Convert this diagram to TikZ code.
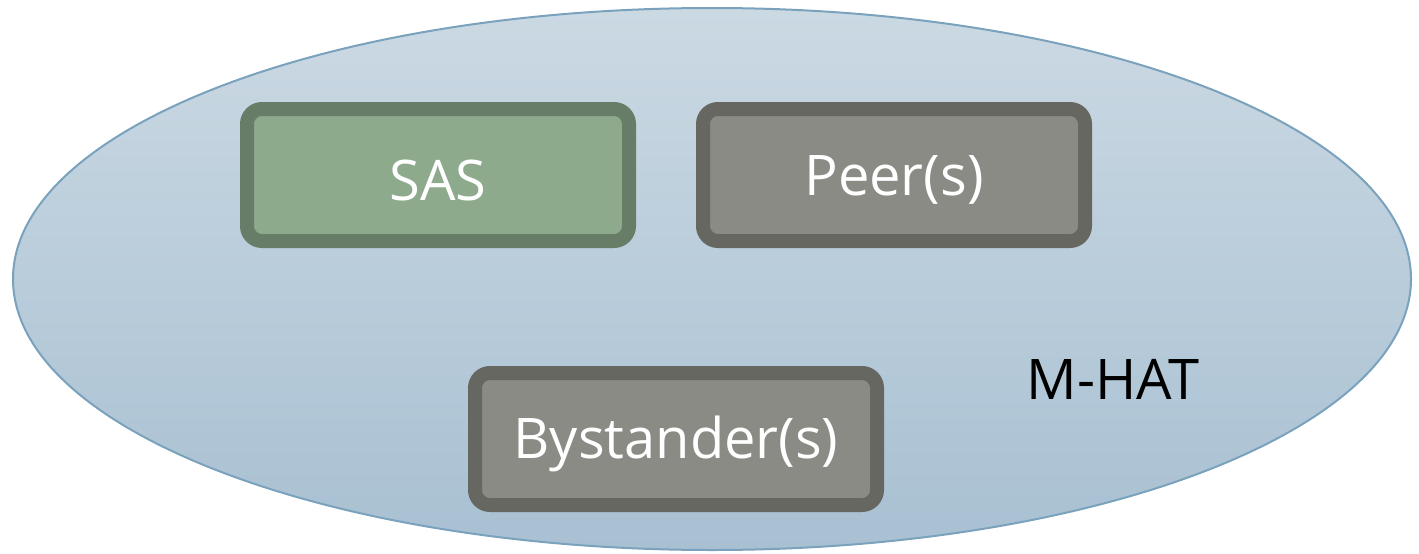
\documentclass[tikz,border=0pt]{standalone}
\usepackage{fontspec}
\setmainfont{Open Sans}
\newcommand{\lowtext}[1]{\raisebox{-5pt}[\height][\depth]{#1}}
\begin{document}
\begin{tikzpicture}[x=1pt,y=-1pt,
  box/.style={draw, line width=14pt, rounded corners=15pt, minimum width=382pt, minimum height=132pt, inner sep=0pt, text=white, font=\fontsize{56}{60}\selectfont},
  sasbox/.style={box, fill=sasfill, draw=sasline},
  graybox/.style={box, fill=grayfill, draw=grayline}]
\definecolor{sasfill}{HTML}{8DAA8D}
\definecolor{sasline}{HTML}{677D67}
\definecolor{grayfill}{HTML}{8B8B85}
\definecolor{grayline}{HTML}{676762}
\definecolor{elltop}{HTML}{CBD9E3}
\definecolor{ellbot}{HTML}{A8C0D2}
\definecolor{ellline}{HTML}{7AA2BD}
\useasboundingbox (0,0) rectangle (1419,554);
\path[top color=elltop, bottom color=ellbot, draw=ellline, line width=2pt] (712,279) ellipse [x radius=699, y radius=271];
\node[sasbox] (sas) at (438,175) {\lowtext{SAS}};
\node[graybox] (peer) at (894,175) {\lowtext{Peer(s)}};
\node[graybox, minimum width=402pt] (by) at (676,439) {\lowtext{Bystander(s)}};
\node[font=\fontsize{56}{60}\selectfont, inner sep=0pt] (mhat) at (1113,379) {M-HAT};
\end{tikzpicture}
\end{document}
